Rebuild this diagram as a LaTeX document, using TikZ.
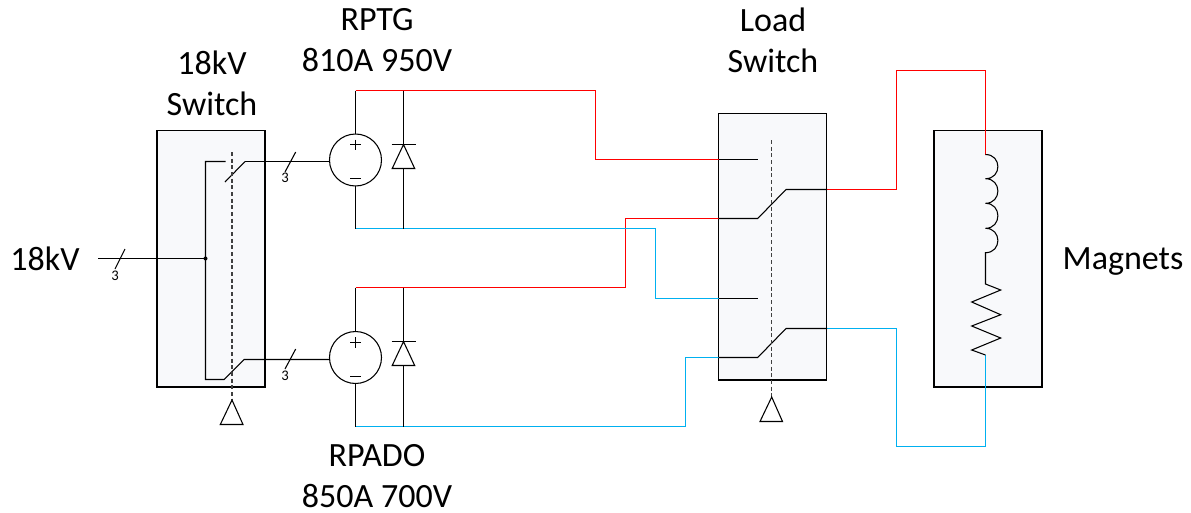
\documentclass[tikz,border=0pt]{standalone}
\usepackage{fontspec}
\setmainfont{Carlito}
\definecolor{boxfill}{HTML}{F8F9FB}
\definecolor{wirered}{HTML}{FF0000}
\definecolor{wireblue}{HTML}{00B0F0}
\tikzset{
  panel/.style={draw=black,fill=boxfill,line width=0.8pt,inner sep=0pt,outer sep=0pt,minimum width=81pt,minimum height=192.4pt},
  source/.style={draw=black,circle,line width=0.8pt,inner sep=0pt,outer sep=0pt,minimum size=39pt},
  label/.style={font=\fontsize{25.5}{30.75}\selectfont,inner sep=0pt,align=center,text=black},
  count/.style={font=\fontsize{11}{13}\selectfont,inner sep=0pt,text=black},
  ln/.style={draw=black,line width=0.8pt},
  redw/.style={draw=wirered,line width=1pt},
  bluew/.style={draw=wireblue,line width=1pt},
  linkage/.style={draw=black!75,line width=0.8pt,dash pattern=on 3pt off 2pt},
  dot/.style={circle,fill=black,inner sep=0pt,minimum size=3pt}
}
\begin{document}
\begin{tikzpicture}[x=0.75pt,y=-0.75pt]
\useasboundingbox (0,0) rectangle (1191,512);

% panels
\node[panel] (swA) at (211,258.75) {};
\node[panel,minimum height=200.2pt] (swB) at (772.5,246.5) {};
\node[panel] (mag) at (988,258.75) {};

% sources
\node[source] (srcT) at (355.5,160) {};
\node[source] (srcB) at (355.5,357.5) {};

% terminals
\coordinate (tT) at (355.5,90.5);
\coordinate (tTb) at (355.5,228.5);
\coordinate (tB) at (355.5,287.5);
\coordinate (tBb) at (355.5,426.5);
\coordinate (dT) at (403.5,90.5);
\coordinate (dTb) at (403.5,228.5);
\coordinate (dB) at (403.5,287.5);
\coordinate (dBb) at (403.5,426.5);
\coordinate (lA) at (718.5,159.5);
\coordinate (lB) at (718.5,218.5);
\coordinate (lC) at (718.5,298.5);
\coordinate (lD) at (718.5,357.5);
\coordinate (lE) at (827,189.5);
\coordinate (lF) at (827,328.5);
\coordinate (coilTop) at (985.5,154.5);
\coordinate (resEnd) at (985.5,355);
\coordinate (feed) at (98,258.5);
\coordinate (bus) at (205.5,258.5);

% coloured wires
\draw[redw] (tT) -| (595.5,159.5) -- (lA);
\draw[redw] (tB) -| (625.5,218.5) -- (lB);
\draw[bluew] (tTb) -| (655.5,298.5) -- (lC);
\draw[bluew] (tBb) -| (685.5,357.5) -- (lD);
\draw[redw] (lE) -| (896.5,70.5) -| (coilTop);
\draw[bluew] (lF) -| (896.5,446.5) -| (resEnd);

% source leads and diodes
\draw[ln] (tT) -- (srcT.north);
\draw[ln] (srcT.south) -- (tTb);
\draw[ln] (tB) -- (srcB.north);
\draw[ln] (srcB.south) -- (tBb);
\draw[ln] (dT) -- (403.5,144.5);
\draw[ln] (403.5,168.5) -- (dTb);
\draw[ln] (dB) -- (403.5,341.5);
\draw[ln] (403.5,365.5) -- (dBb);
\draw[ln] (391.7,144.5) -- (415.7,144.5);
\draw[ln] (403.5,144.5) -- (414.7,168.5) -- (392.2,168.5) -- cycle;
\draw[ln] (391.7,341.5) -- (415.7,341.5);
\draw[ln] (403.5,341.5) -- (414.7,365.5) -- (392.2,365.5) -- cycle;
% polarity marks
\draw[ln] (355.5,139.5) -- (355.5,150) (350,144.5) -- (361,144.5) (350,178.5) -- (361,178.5);
\draw[ln] (355.5,337) -- (355.5,347.5) (350,342.5) -- (361,342.5) (350,376.5) -- (361,376.5);

% 18kV switch
\draw[ln] (feed) -- (bus);
\node[dot] (busdot) at (bus) {};
\draw[ln] (245,161.5) -- (srcT.west |- 245,161.5);
\draw[ln] (225.5,161.5) -- (205.5,161.5) -- (205.5,379.5) -- (224,379.5) -- (244,359.5) -- (srcB.west |- 244,359.5);
\draw[ln] (225,182) -- (245,161.5);
\draw[linkage] (232,152) -- (232,400);
\draw[ln] (232,400) -- (243,424.5) -- (220.3,424.5) -- cycle;

% phase ticks
\draw[ln] (125,249) -- (115,269);
\node[count] (n1) at (115,276) {3};
\draw[ln] (295.7,152) -- (285,172);
\node[count] (n2) at (285,177.5) {3};
\draw[ln] (295.7,349) -- (285,369);
\node[count] (n3) at (285,375.5) {3};

% load switch
\draw[ln] (lA) -- (757.7,159.5);
\draw[ln] (lC) -- (757.7,298.5);
\draw[ln] (lB) -- (757.7,218.5) -- (786,189.5) -- (lE);
\draw[ln] (lD) -- (757.7,357.5) -- (786,328.5) -- (lF);
\draw[linkage] (771.7,140) -- (771.7,397);
\draw[ln] (771.7,397) -- (782.5,421.5) -- (760,421.5) -- cycle;

% magnets
\draw[ln] (coilTop)
  .. controls (1002,154.5) and (1002,178.7) .. (985.5,178.7)
  .. controls (1002,178.7) and (1002,203.3) .. (985.5,203.3)
  .. controls (1002,203.3) and (1002,228.3) .. (985.5,228.3)
  .. controls (1002,228.3) and (1002,252.7) .. (985.5,252.7)
  -- (985.5,284) -- (1000.7,290) -- (971.7,302) -- (1000.7,314.7) -- (971.7,326) -- (1000.7,338) -- (971.7,350) -- (resEnd);

% labels
\node[label] (t1) at (45,259) {18kV};
\node[label] (t2) at (212,83.5) {18kV\\Switch};
\node[label] (t3) at (377,40.5) {RPTG\\810A 950V};
\node[label] (t4) at (773,40.5) {Load\\Switch};
\node[label] (t5) at (377,476) {RPADO\\850A 700V};
\node[label] (t6) at (1123,262) {Magnets};
\end{tikzpicture}
\end{document}
